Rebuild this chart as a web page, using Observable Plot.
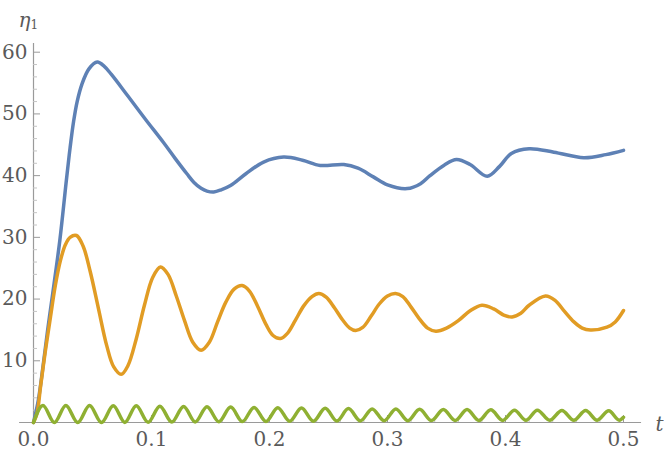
<!DOCTYPE html>
<html><head><meta charset="utf-8">
<script src="https://cdn.jsdelivr.net/npm/d3@7"></script>
<script src="https://cdn.jsdelivr.net/npm/@observablehq/plot@0.6"></script>
<style>body{margin:0;background:#fff}</style>
</head><body><div id="chart"></div>
<script>
// ---- data ----
const blueT = [0, 0.004, 0.008, 0.012, 0.016, 0.0223, 0.028, 0.031, 0.034, 0.037, 0.041, 0.047, 0.054, 0.060, 0.066, 0.080, 0.095, 0.110, 0.120, 0.130, 0.136, 0.142, 0.147, 0.1528, 0.159, 0.167, 0.180, 0.195, 0.212, 0.228, 0.243, 0.263, 0.275, 0.288, 0.300, 0.3167, 0.328, 0.336, 0.348, 0.3585, 0.370, 0.3845, 0.395, 0.405, 0.420, 0.441, 0.4664, 0.485, 0.500];
const blueV = [0, 3.5, 9, 15, 20.5, 29.5, 39.5, 44.5, 48.8, 52.0, 54.8, 57.3, 58.4, 57.7, 56.4, 52.9, 49.1, 45.4, 42.8, 40.3, 38.9, 37.95, 37.5, 37.35, 37.7, 38.4, 40.3, 42.2, 43.0, 42.5, 41.65, 41.8, 41.2, 39.8, 38.5, 37.9, 38.7, 40.0, 41.7, 42.6, 41.8, 39.9, 41.5, 43.6, 44.35, 43.8, 42.9, 43.4, 44.1];

const orangeT = [0, 0.003, 0.0059, 0.010, 0.0144, 0.0185, 0.0229, 0.027, 0.031, 0.0364, 0.042, 0.048, 0.055, 0.062, 0.068, 0.0743, 0.080, 0.087, 0.094, 0.101, 0.1076, 0.114, 0.121, 0.128, 0.135, 0.142, 0.149, 0.156, 0.163, 0.170, 0.1768, 0.183, 0.190, 0.197, 0.203, 0.2093, 0.215, 0.222, 0.229, 0.236, 0.2418, 0.248, 0.255, 0.262, 0.268, 0.273, 0.279, 0.286, 0.293, 0.300, 0.3068, 0.313, 0.320, 0.327, 0.334, 0.341, 0.350, 0.360, 0.370, 0.380, 0.390, 0.3985, 0.4056, 0.413, 0.420, 0.4339, 0.442, 0.450, 0.458, 0.465, 0.472, 0.486, 0.493, 0.500];
const orangeV = [0, 1.5, 5.7, 11.5, 17.1, 22.2, 26.3, 28.8, 30.0, 30.3, 28.6, 24.5, 18.5, 12.5, 9.0, 7.8, 9.2, 13.5, 19.0, 23.5, 25.2, 24.0, 20.5, 16.5, 13.0, 11.7, 13.0, 16.3, 19.5, 21.6, 22.2, 21.3, 18.8, 15.9, 14.1, 13.6, 14.4, 16.6, 18.9, 20.4, 20.9, 20.3, 18.6, 16.6, 15.3, 14.9, 15.4, 17.2, 19.2, 20.5, 20.9, 20.4, 18.7, 16.8, 15.3, 14.8, 15.3, 16.5, 18.1, 19.0, 18.4, 17.4, 17.1, 17.7, 19.0, 20.5, 19.8, 18.0, 16.3, 15.3, 15.0, 15.45, 16.3, 18.15];

const greenPeakT = [0.0080, 0.0274, 0.0475, 0.0676, 0.0871, 0.1071, 0.1272, 0.1470, 0.1671, 0.1869, 0.2070, 0.2271, 0.2472, 0.2669, 0.2870, 0.3071, 0.3272, 0.3473, 0.3674, 0.3875, 0.4076, 0.4270, 0.4478, 0.4679, 0.4875];
const greenPeakV = [2.75, 2.75, 2.75, 2.7, 2.7, 2.65, 2.6, 2.55, 2.5, 2.45, 2.4, 2.35, 2.3, 2.25, 2.2, 2.2, 2.15, 2.1, 2.1, 2.05, 2.0, 2.0, 1.95, 1.95, 1.9];
const greenTroughT = [0.0177, 0.0375, 0.0576, 0.0774, 0.0971, 0.1172, 0.1371, 0.1571, 0.1770, 0.1970, 0.2171, 0.2372, 0.2571, 0.2770, 0.2971, 0.3172, 0.3373, 0.3574, 0.3775, 0.3976, 0.4173, 0.4374, 0.4579, 0.4777, 0.4965];
const greenTroughV = [0, 0, 0, 0.02, 0.04, 0.07, 0.1, 0.12, 0.15, 0.17, 0.2, 0.22, 0.24, 0.26, 0.28, 0.3, 0.31, 0.32, 0.33, 0.34, 0.35, 0.36, 0.37, 0.38, 0.38];
const greenStart = {t: 0, v: 0};
const greenEnd = {t: 0.5, v: 0.85};

const majorX = [0, 0.1, 0.2, 0.3, 0.4, 0.5];
const minorX = [0.02, 0.04, 0.06, 0.08, 0.12, 0.14, 0.16, 0.18, 0.22, 0.24, 0.26, 0.28, 0.32, 0.34, 0.36, 0.38, 0.42, 0.44, 0.46, 0.48];
const majorY = [10, 20, 30, 40, 50, 60];
const minorY = [2, 4, 6, 8, 12, 14, 16, 18, 22, 24, 26, 28, 32, 34, 36, 38, 42, 44, 46, 48, 52, 54, 56, 58];
const xAxisExtent = [-0.0118, 0.5153];
const yAxisExtent = [0, 61.4];

const colors = {blue: "#5E81B5", orange: "#E19C24", green: "#8FB032"};
const axisColor = "#9a9a9a", minorColor = "#c4c4c4", textColor = "#5a5a5a";

// ---- build tables ----
const zip = (T, V) => T.map((t, i) => ({t, v: V[i]}));
const blue = zip(blueT, blueV);
const orange = zip(orangeT, orangeV);
const green = [greenStart];
greenPeakT.forEach((t, i) => {
  green.push({t, v: greenPeakV[i]});
  green.push({t: greenTroughT[i], v: greenTroughV[i]});
});
green.push(greenEnd);

const font = "'DejaVu Serif', serif";
const chart = Plot.plot({
  width: 664, height: 461,
  marginLeft: 33, marginRight: 41, marginTop: 51.7, marginBottom: 39,
  x: {domain: [0, 0.5]},
  y: {domain: [0, 60]},
  style: {fontFamily: font, fontSize: "20px", color: textColor, background: "#fff", overflow: "visible"},
  marks: [
    Plot.ruleY([0], {x1: xAxisExtent[0], x2: xAxisExtent[1], stroke: axisColor, strokeWidth: 1.2}),
    Plot.ruleX([0], {y1: yAxisExtent[0], y2: yAxisExtent[1], stroke: axisColor, strokeWidth: 1.2}),
    Plot.axisX(minorX, {anchor: "bottom", tickSize: -4, tickFormat: () => "", stroke: minorColor, label: null}),
    Plot.axisX(majorX, {anchor: "bottom", tickSize: -7, tickFormat: () => "", stroke: axisColor, label: null}),
    Plot.axisX(majorX, {anchor: "bottom", tickSize: 0, tickPadding: 9, tickFormat: d3.format(".1f"), fontSize: 20, fill: textColor, label: null}),
    Plot.axisY(minorY, {anchor: "left", tickSize: -4, tickFormat: () => "", stroke: minorColor, label: null}),
    Plot.axisY(majorY, {anchor: "left", tickSize: -7, tickFormat: () => "", stroke: axisColor, label: null}),
    Plot.axisY(majorY, {anchor: "left", tickSize: 0, tickPadding: 6, tickFormat: d3.format("d"), fontSize: 20, fill: textColor, label: null}),
    Plot.line(blue, {x: "t", y: "v", stroke: colors.blue, strokeWidth: 3.5, curve: "catmull-rom"}),
    Plot.line(orange, {x: "t", y: "v", stroke: colors.orange, strokeWidth: 3.5, curve: "catmull-rom"}),
    Plot.line(green, {x: "t", y: "v", stroke: colors.green, strokeWidth: 3.5, curve: "monotone-x"}),
    Plot.text(["η"], {frameAnchor: "top-left", dx: -15, dy: -25, fontStyle: "italic", textAnchor: "start", lineAnchor: "bottom", fontSize: 20, fill: textColor}),
    Plot.text(["1"], {frameAnchor: "top-left", dx: -3, dy: -23, textAnchor: "start", lineAnchor: "bottom", fontSize: 12, fill: textColor}),
    Plot.text(["t"], {frameAnchor: "bottom-right", dx: 32, dy: 8, fontStyle: "italic", textAnchor: "start", lineAnchor: "bottom", fontSize: 20, fill: textColor})
  ]
});
document.getElementById("chart").appendChild(chart);
</script>
</body></html>
